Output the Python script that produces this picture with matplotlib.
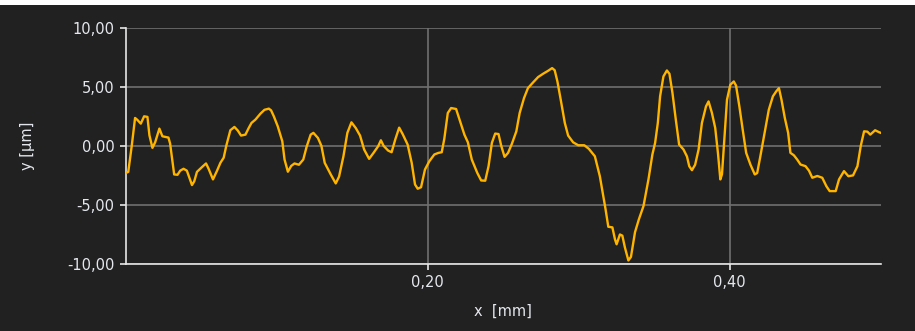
import matplotlib
matplotlib.use("Agg")
import matplotlib.pyplot as plt
from matplotlib.patches import Rectangle
from matplotlib.ticker import FuncFormatter

# profile position [mm]
x_mm = [0.0000, 0.0017, 0.0040, 0.0062, 0.0077, 0.0100, 0.0122, 0.0144, 0.0157, 0.0177,
        0.0195, 0.0223, 0.0243, 0.0283, 0.0294, 0.0321, 0.0343, 0.0361, 0.0383, 0.0405,
        0.0416, 0.0439, 0.0454, 0.0472, 0.0505, 0.0532, 0.0549, 0.0578, 0.0605, 0.0627,
        0.0649, 0.0666, 0.0693, 0.0720, 0.0742, 0.0764, 0.0793, 0.0815, 0.0833, 0.0859,
        0.0892, 0.0919, 0.0948, 0.0963, 0.0981, 0.1007, 0.1037, 0.1052, 0.1074, 0.1096,
        0.1118, 0.1147, 0.1176, 0.1198, 0.1225, 0.1243, 0.1273, 0.1296, 0.1318, 0.1357,
        0.1391, 0.1413, 0.1442, 0.1468, 0.1495, 0.1524, 0.1552, 0.1579, 0.1612, 0.1641,
        0.1672, 0.1690, 0.1708, 0.1738, 0.1761, 0.1785, 0.1811, 0.1834, 0.1867, 0.1894,
        0.1916, 0.1934, 0.1956, 0.1982, 0.2011, 0.2044, 0.2070, 0.2093, 0.2110, 0.2133,
        0.2155, 0.2188, 0.2217, 0.2243, 0.2266, 0.2292, 0.2328, 0.2354, 0.2381, 0.2403,
        0.2425, 0.2447, 0.2469, 0.2487, 0.2509, 0.2532, 0.2558, 0.2587, 0.2609, 0.2638,
        0.2664, 0.2698, 0.2731, 0.2764, 0.2797, 0.2824, 0.2841, 0.2859, 0.2881, 0.2908,
        0.2930, 0.2963, 0.2997, 0.3037, 0.3067, 0.3107, 0.3140, 0.3163, 0.3178, 0.3196,
        0.3223, 0.3240, 0.3251, 0.3273, 0.3289, 0.3306, 0.3329, 0.3346, 0.3373, 0.3399,
        0.3429, 0.3462, 0.3488, 0.3506, 0.3524, 0.3539, 0.3561, 0.3584, 0.3601, 0.3621,
        0.3643, 0.3665, 0.3694, 0.3717, 0.3732, 0.3750, 0.3771, 0.3794, 0.3816, 0.3843,
        0.3860, 0.3882, 0.3904, 0.3922, 0.3938, 0.3949, 0.3967, 0.3982, 0.4004, 0.4027,
        0.4042, 0.4064, 0.4086, 0.4109, 0.4137, 0.4166, 0.4182, 0.4203, 0.4233, 0.4259,
        0.4286, 0.4308, 0.4326, 0.4343, 0.4365, 0.4387, 0.4402, 0.4425, 0.4447, 0.4469,
        0.4502, 0.4525, 0.4547, 0.4580, 0.4613, 0.4640, 0.4662, 0.4702, 0.4724, 0.4757,
        0.4786, 0.4817, 0.4846, 0.4868, 0.4890, 0.4912, 0.4931, 0.4963, 0.4990, 0.5000]

# profile height [µm]
y_um = [-2.30, -2.20, 0.00, 2.36, 2.20, 1.88, 2.50, 2.45, 0.90, -0.17,
        0.30, 1.46, 0.81, 0.70, 0.20, -2.42, -2.45, -2.10, -1.94, -2.10,
        -2.50, -3.32, -3.00, -2.20, -1.80, -1.49, -1.94, -2.84, -2.10, -1.44,
        -1.00, 0.00, 1.32, 1.60, 1.30, 0.87, 0.95, 1.52, 1.94, 2.22,
        2.72, 3.05, 3.15, 3.00, 2.50, 1.65, 0.39, -1.16, -2.19, -1.70,
        -1.49, -1.60, -1.16, -0.08, 0.95, 1.10, 0.67, 0.00, -1.44, -2.40,
        -3.18, -2.60, -0.88, 1.10, 1.99, 1.50, 0.87, -0.31, -1.10, -0.60,
        -0.03, 0.47, 0.00, -0.40, -0.54, 0.53, 1.54, 1.00, 0.11, -1.44,
        -3.27, -3.63, -3.50, -2.00, -1.30, -0.73, -0.60, -0.54, 0.60, 2.78,
        3.20, 3.12, 1.99, 0.95, 0.30, -1.16, -2.28, -2.93, -2.95, -1.72,
        0.25, 1.04, 1.00, 0.00, -0.93, -0.60, 0.19, 1.23, 2.78, 4.05,
        4.89, 5.37, 5.82, 6.10, 6.35, 6.58, 6.40, 5.45, 3.90, 1.94,
        0.87, 0.30, 0.05, 0.05, -0.25, -0.88, -2.57, -4.25, -5.38, -6.85,
        -6.90, -7.90, -8.33, -7.50, -7.60, -8.60, -9.70, -9.40, -7.30, -6.20,
        -5.10, -2.84, -0.73, 0.25, 1.94, 4.19, 5.87, 6.38, 6.10, 4.47,
        2.22, 0.11, -0.31, -0.90, -1.72, -2.06, -1.60, -0.31, 1.94, 3.34,
        3.76, 2.80, 1.52, -0.59, -2.84, -2.40, 1.10, 3.90, 5.17, 5.45,
        5.10, 3.34, 1.38, -0.59, -1.58, -2.42, -2.30, -0.88, 1.23, 3.06,
        4.19, 4.61, 4.89, 3.90, 2.36, 1.10, -0.59, -0.80, -1.16, -1.58,
        -1.72, -2.10, -2.70, -2.55, -2.70, -3.41, -3.83, -3.83, -2.84, -2.14,
        -2.57, -2.50, -1.72, 0.00, 1.23, 1.20, 0.95, 1.32, 1.15, 1.10]

y_ticks = [-10, -5, 0, 5, 10]
x_ticks = [0.2, 0.4]

BG = "#212121"
TXT = "#e4e8ee"

fig = plt.figure(figsize=(9.15, 3.31), dpi=100, facecolor=BG)
fig.patches.append(Rectangle((0, 1 - 5 / 331), 1, 5 / 331, transform=fig.transFigure,
                             facecolor="white", edgecolor="none", zorder=-1))
ax = fig.add_axes([125.7 / 915, 67 / 331, 755 / 915, 236.3 / 331], facecolor=BG)

ax.plot(x_mm, y_um, color="#FFB400", lw=1.7, solid_joinstyle="round", zorder=3)

ax.set_xlim(0, 0.5)
ax.set_ylim(-10, 10)
ax.set_yticks(y_ticks)
ax.set_xticks(x_ticks)
ax.yaxis.set_major_formatter(FuncFormatter(lambda v, p: f"{v:.2f}".replace(".", ",")))
ax.xaxis.set_major_formatter(FuncFormatter(lambda v, p: f"{v:.2f}".replace(".", ",")))

ax.grid(True, color="#707070", lw=1.2)
ax.set_axisbelow(True)
for s in ["top", "right"]:
    ax.spines[s].set_visible(False)
for s in ["left", "bottom"]:
    ax.spines[s].set_color("#e6e6e6")
    ax.spines[s].set_linewidth(1.2)

ax.tick_params(axis="both", colors="#e6e6e6", labelcolor=TXT, labelsize=10.5,
               length=4, width=1.2, direction="out", pad=4)

ax.set_xlabel("x  [mm]", color=TXT, fontsize=10.5, labelpad=10)
ax.set_ylabel("y [µm]", color=TXT, fontsize=10.5, labelpad=23)

fig.savefig("out.png", dpi=100, facecolor=BG)
